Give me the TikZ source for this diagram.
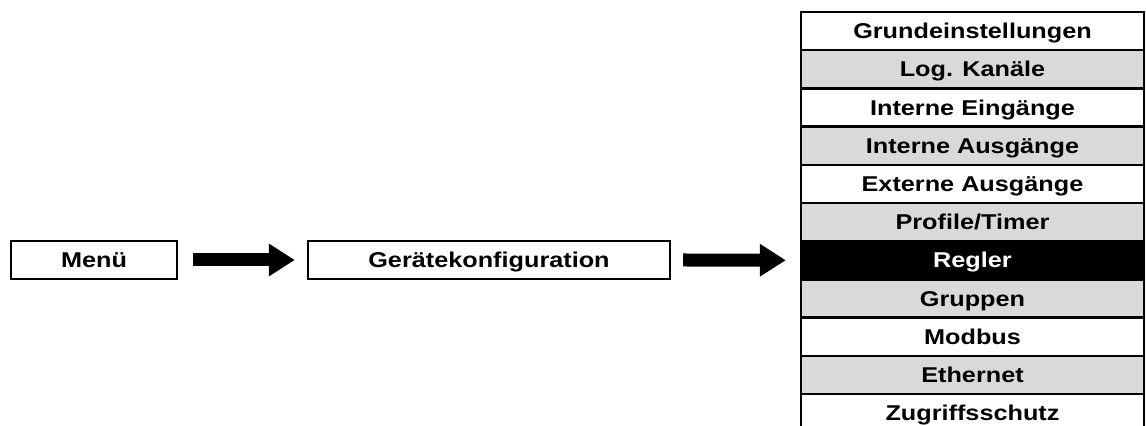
\documentclass[tikz,border=0pt]{standalone}
\usepackage{fontspec}
\setmainfont{Liberation Sans}[FakeStretch=1.18]
\usepackage{xcolor}
\definecolor{zeilgrau}{RGB}{217,217,217}
\usepackage{tikz}
\usetikzlibrary{arrows.meta,positioning}

\begin{document}
\begin{tikzpicture}[x=0.5pt, y=0.5pt,
      kasten/.style={draw=black, line width=1.2pt, fill=white, inner sep=0pt,
                     text height=7.7pt, text depth=0pt,
                     minimum height=19pt, align=center, font=\fontsize{10.7}{12}\selectfont\bfseries},
      zeile/.style={kasten, minimum width=171.5pt, minimum height=19.1pt},
      grau/.style={zeile, fill=zeilgrau},
      aktiv/.style={zeile, fill=black, text=white},
      pfeil/.style={-{Triangle[length=13pt, width=15.5pt]}, line width=6.5pt, color=black}]
    \useasboundingbox (0,0) rectangle (1146,426);
    \node[kasten, minimum width=83pt]  (menu)   at (94,166)  {Menü};
    \node[kasten, minimum width=181pt] (geraet) at (489,166) {Gerätekonfiguration};
    % Untermenue
    \node[zeile] (grund)  at (972.5,394.9) {Grundeinstellungen};
    \node[grau]  (kanal)  at (972.5,356.7) {Log. Kanäle};
    \node[zeile] (inein)  at (972.5,318.5) {Interne Eingänge};
    \node[grau]  (inaus)  at (972.5,280.3) {Interne Ausgänge};
    \node[zeile] (exaus)  at (972.5,242.1) {Externe Ausgänge};
    \node[grau]  (profil) at (972.5,203.9) {Profile/Timer};
    \node[aktiv] (regler) at (972.5,165.7) {Regler};
    \node[grau]  (gruppe) at (972.5,127.5) {Gruppen};
    \node[zeile] (modbus) at (972.5,89.3)  {Modbus};
    \node[grau]  (ether)  at (972.5,51.1)  {Ethernet};
    \node[zeile] (zugriff) at (972.5,12.9) {Zugriffsschutz};
    \draw[pfeil] ([xshift=7.5pt]menu.east)    -- ([xshift=-6pt]geraet.west);
    \draw[pfeil] ([xshift=6pt]geraet.east)    -- ([xshift=-7pt]regler.west);
  \end{tikzpicture}
\end{document}
